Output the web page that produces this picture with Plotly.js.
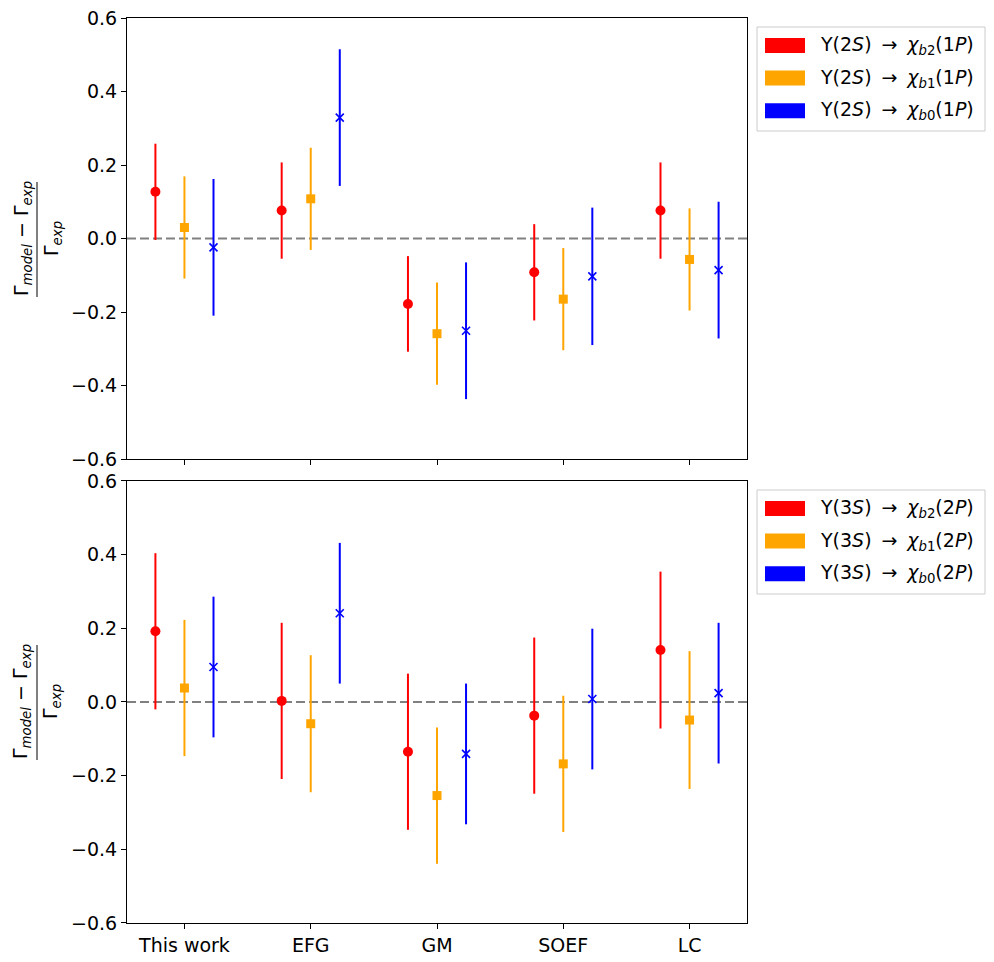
<!DOCTYPE html>
<html>
<head>
<meta charset="utf-8">
<script src="https://cdn.plot.ly/plotly-3.0.1.min.js"></script>
<style>
  body { margin: 0; background: #fff; }
  #chart { width: 994px; height: 962px; }
</style>
</head>
<body>
<div id="chart"></div>
<script>
// models compared
var categories = ["This work", "EFG", "GM", "SOEF", "LC"];

// Y(2S) -> chi_bJ(1P), relative deviation and its uncertainty
var up2_j2 = [0.127, 0.076, -0.178, -0.092, 0.076];
var up2_j2_err = [0.131, 0.131, 0.130, 0.131, 0.131];
var up2_j1 = [0.030, 0.108, -0.259, -0.165, -0.057];
var up2_j1_err = [0.139, 0.139, 0.139, 0.139, 0.139];
var up2_j0 = [-0.024, 0.329, -0.251, -0.103, -0.086];
var up2_j0_err = [0.186, 0.186, 0.186, 0.187, 0.186];

// Y(3S) -> chi_bJ(2P)
var up3_j2 = [0.192, 0.003, -0.135, -0.037, 0.141];
var up3_j2_err = [0.212, 0.212, 0.212, 0.212, 0.213];
var up3_j1 = [0.038, -0.059, -0.254, -0.168, -0.049];
var up3_j1_err = [0.185, 0.186, 0.185, 0.185, 0.187];
var up3_j0 = [0.095, 0.241, -0.141, 0.008, 0.024];
var up3_j0_err = [0.191, 0.191, 0.191, 0.191, 0.191];

var ARROW = " &#8201;→ &#8201;";
var legend_top = [
    "Υ(2<i>S</i>)" + ARROW + "<i>χ</i><sub><i>b</i>2</sub>(1<i>P</i>)",
    "Υ(2<i>S</i>)" + ARROW + "<i>χ</i><sub><i>b</i>1</sub>(1<i>P</i>)",
    "Υ(2<i>S</i>)" + ARROW + "<i>χ</i><sub><i>b</i>0</sub>(1<i>P</i>)",
];
var legend_bot = [
    "Υ(3<i>S</i>)" + ARROW + "<i>χ</i><sub><i>b</i>2</sub>(2<i>P</i>)",
    "Υ(3<i>S</i>)" + ARROW + "<i>χ</i><sub><i>b</i>1</sub>(2<i>P</i>)",
    "Υ(3<i>S</i>)" + ARROW + "<i>χ</i><sub><i>b</i>0</sub>(2<i>P</i>)",
];

var colors = ["red", "orange", "blue"];
var offsets = [-0.23, 0, 0.23];
var symbols = ["circle", "square", "x-thin"];
var sizes = [10, 9, 8];
var FONT = "DejaVu Sans, Liberation Sans, sans-serif";

function makeTrace(vals, errs, k, xa, ya) {
    var xs = vals.map(function (v, i) { return i + offsets[k]; });
    return {
        type: "scatter",
        mode: "markers",
        x: xs,
        y: vals,
        xaxis: xa,
        yaxis: ya,
        showlegend: false,
        hoverinfo: "skip",
        error_y: { type: "data", array: errs, visible: true,
                   color: colors[k], thickness: 2, width: 0 },
        marker: {
            symbol: symbols[k],
            size: sizes[k],
            color: colors[k],
            line: { color: colors[k], width: k == 2 ? 1.6 : 0 },
        },
    };
}

var traces = [
    makeTrace(up2_j2, up2_j2_err, 0, "x", "y"),
    makeTrace(up2_j1, up2_j1_err, 1, "x", "y"),
    makeTrace(up2_j0, up2_j0_err, 2, "x", "y"),
    makeTrace(up3_j2, up3_j2_err, 0, "x2", "y2"),
    makeTrace(up3_j1, up3_j1_err, 1, "x2", "y2"),
    makeTrace(up3_j0, up3_j0_err, 2, "x2", "y2"),
];

// pixel helpers (plot area: left 127, width 620; panels 441px tall)
function px(x) { return (x - 127) / 620; }
var panels = [
    { xr: "x domain", yr: "y domain", bottom: 459, top: 18, labels: legend_top },
    { xr: "x2 domain", yr: "y2 domain", bottom: 923, top: 481, labels: legend_bot },
];

var shapes = [];
var annotations = [];
panels.forEach(function (p) {
    var h = p.bottom - p.top;
    function py(y) { return (p.bottom - (y + p.top)) / h; }
    // zero line
    shapes.push({ type: "line", xref: p.xr, yref: p.yr.replace(" domain", ""),
        x0: 0, x1: 1, y0: 0, y1: 0, layer: "below",
        line: { color: "gray", width: 2, dash: "9px,4px" } });
    // legend frame
    shapes.push({ type: "rect", xref: p.xr, yref: p.yr,
        x0: px(757), x1: px(985), y0: py(9), y1: py(113),
        line: { color: "#cccccc", width: 1 }, fillcolor: "rgba(255,255,255,0.8)" });
    p.labels.forEach(function (lab, k) {
        var c = 27.5 + 32.6 * k;
        shapes.push({ type: "rect", xref: p.xr, yref: p.yr,
            x0: px(765), x1: px(805), y0: py(c - 7.5), y1: py(c + 7.5),
            line: { width: 0 }, fillcolor: colors[k] });
        annotations.push({ xref: p.xr, yref: p.yr, x: px(818), y: py(c),
            xanchor: "left", yanchor: "middle", showarrow: false, text: lab,
            font: { family: FONT, size: 19, color: "black" } });
    });
    // y axis title as a fraction
    var mid = py(221);
    annotations.push({ xref: "paper", yref: p.yr, x: px(22), y: mid,
        xanchor: "center", yanchor: "middle", textangle: -90, showarrow: false,
        text: "Γ<sub><i>model</i></sub> − Γ<sub><i>exp</i></sub>",
        font: { family: FONT, size: 19, color: "black" } });
    annotations.push({ xref: "paper", yref: p.yr, x: px(52), y: mid,
        xanchor: "center", yanchor: "middle", textangle: -90, showarrow: false,
        text: "Γ<sub><i>exp</i></sub>",
        font: { family: FONT, size: 19, color: "black" } });
    shapes.push({ type: "line", xref: "paper", yref: p.yr,
        x0: px(37), x1: px(37), y0: py(164), y1: py(279),
        line: { color: "black", width: 1 } });
});

var xbase = {
    range: [-0.455, 4.455],
    tickvals: categories.map(function (c, i) { return i; }),
    ticktext: categories,
    ticks: "outside", ticklen: 5, tickwidth: 1, tickcolor: "black",
    showline: true, linecolor: "black", linewidth: 1, mirror: true,
    showgrid: false, zeroline: false,
    tickfont: { family: FONT, size: 19, color: "black" },
};
var ybase = {
    range: [-0.6, 0.6],
    tick0: -0.6, dtick: 0.2, tickformat: ".1f",
    ticks: "outside", ticklen: 5, tickwidth: 1, tickcolor: "black",
    showline: true, linecolor: "black", linewidth: 1, mirror: true,
    showgrid: false, zeroline: false,
    tickfont: { family: FONT, size: 19, color: "black" },
};

var layout = {
    width: 994,
    height: 962,
    margin: { l: 127, r: 247, t: 18, b: 39 },
    paper_bgcolor: "white",
    plot_bgcolor: "white",
    font: { family: FONT, color: "black" },
    showlegend: false,
    xaxis: Object.assign({}, xbase, { anchor: "y", showticklabels: false }),
    yaxis: Object.assign({}, ybase, { anchor: "x", domain: [0.5127, 1] }),
    xaxis2: Object.assign({}, xbase, { anchor: "y2" }),
    yaxis2: Object.assign({}, ybase, { anchor: "x2", domain: [0, 0.4884] }),
    shapes: shapes,
    annotations: annotations,
};

Plotly.newPlot("chart", traces, layout, { displayModeBar: false });
</script>
</body>
</html>
